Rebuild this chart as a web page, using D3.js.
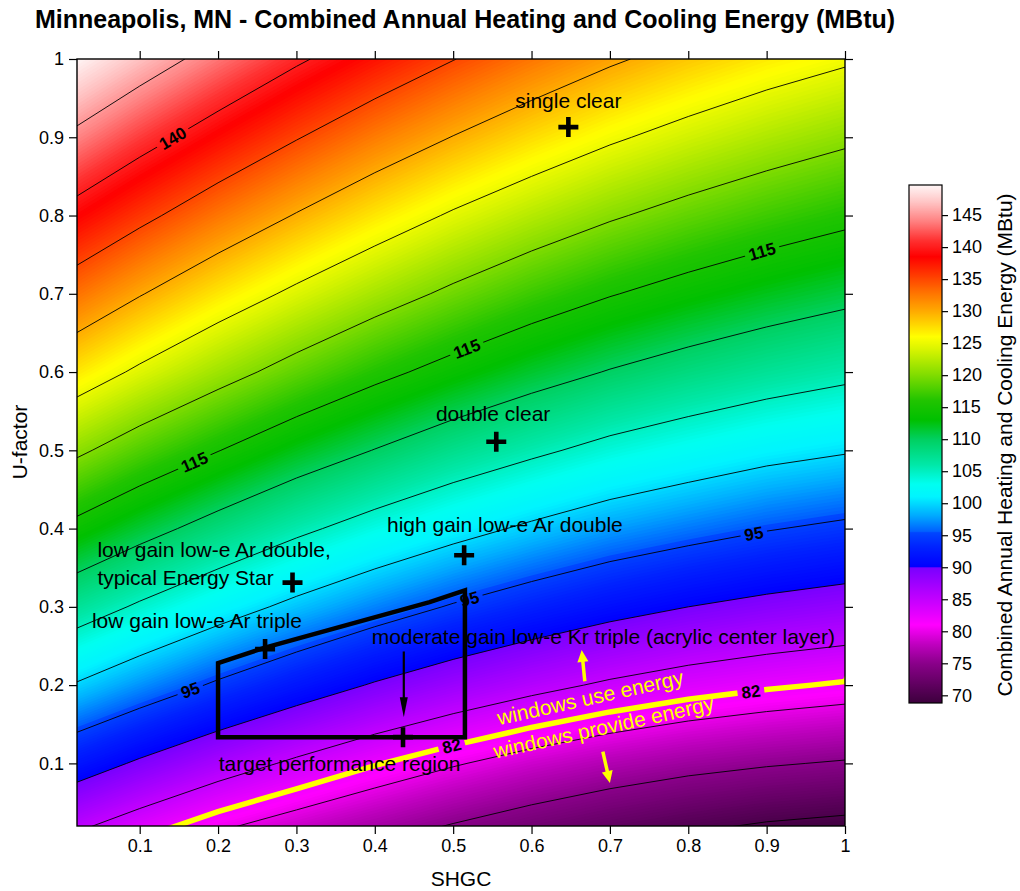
<!DOCTYPE html>
<html><head><meta charset="utf-8">
<script src="https://cdn.jsdelivr.net/npm/d3@7"></script>
<style>
body{margin:0;background:#fff;}
svg{display:block;font-family:"Liberation Sans",Arial,Helvetica,sans-serif;}
</style></head><body>
<svg id="chart" width="1020" height="891"></svg>
<script>
// ================= DATA =================
const shgcGrid = [0, 0.1, 0.2, 0.3, 0.4, 0.5, 0.6, 0.7, 0.8, 0.9, 1.0];
const uGrid    = [0, 0.1, 0.2, 0.3, 0.4, 0.5, 0.6, 0.7, 0.8, 0.9, 1.0];
// combined annual energy (MBtu), one row per U-factor, one column per SHGC
const energyU00 = [84.6, 81.7, 79.0, 77.0, 75.2, 73.4, 71.8, 70.4, 69.2, 68.2, 67.6];
const energyU01 = [92.5, 89.5, 86.8, 84.4, 82.2, 80.3, 78.6, 77.2, 76.1, 75.3, 74.7];
const energyU02 = [100.3, 97.3, 94.5, 92.0, 89.7, 87.7, 86.0, 84.5, 83.3, 82.4, 81.7];
const energyU03 = [107.6, 104.5, 101.7, 99.1, 96.8, 94.7, 92.9, 91.3, 90.0, 89.0, 88.2];
const energyU04 = [114.6, 111.4, 108.5, 105.8, 103.4, 101.3, 99.4, 97.7, 96.4, 95.2, 94.3];
const energyU05 = [121.3, 118.0, 115.1, 112.3, 109.9, 107.6, 105.7, 103.9, 102.5, 101.2, 100.3];
const energyU06 = [127.7, 124.4, 121.4, 118.6, 116.0, 113.7, 111.6, 109.8, 108.3, 107.0, 105.9];
const energyU07 = [133.6, 130.2, 127.1, 124.3, 121.7, 119.3, 117.1, 115.2, 113.6, 112.2, 111.0];
const energyU08 = [139.3, 135.9, 132.7, 129.8, 127.1, 124.6, 122.4, 120.4, 118.7, 117.2, 115.9];
const energyU09 = [144.9, 141.4, 138.2, 135.2, 132.4, 129.9, 127.6, 125.5, 123.7, 122.1, 120.7];
const energyU10 = [150.4, 146.9, 143.6, 140.5, 137.7, 135.1, 132.7, 130.5, 128.6, 126.9, 125.5];

const contourLevels = [70, 75, 80, 85, 90, 95, 100, 105, 110, 115, 120, 125, 130, 135, 140, 145];
const neutralLevel = 82;
const labelLevels = [140, 115, 115, 115, 95, 95, 95, 82, 82];
const labelShgc   = [0.141, 0.168, 0.515, 0.894, 0.164, 0.521, 0.883, 0.50, 0.88];
const labelU      = [0.901, 0.489, 0.636, 0.755, 0.195, 0.310, 0.397, 0.115, 0.191];

const markerNames = ["single clear", "double clear", "high gain low-e Ar double",
  "low gain low-e Ar double", "low gain low-e Ar triple", "moderate gain low-e Kr triple"];
const markerShgc = [0.647, 0.555, 0.514, 0.295, 0.260, 0.436];
const markerU    = [0.913, 0.511, 0.366, 0.331, 0.246, 0.1335];

const targetShgc = [0.20, 0.26, 0.47, 0.515, 0.515, 0.20];
const targetU    = [0.228, 0.248, 0.306, 0.321, 0.1335, 0.1335];

const xTicks = [0.1, 0.2, 0.3, 0.4, 0.5, 0.6, 0.7, 0.8, 0.9, 1];
const yTicks = [0.1, 0.2, 0.3, 0.4, 0.5, 0.6, 0.7, 0.8, 0.9, 1];
const colorbarTicks = [70, 75, 80, 85, 90, 95, 100, 105, 110, 115, 120, 125, 130, 135, 140, 145];
const colorbarRange = [68.8, 149.7];

// ================= STYLE =================
const colorStopValues = [68.8, 70, 75, 78, 81, 83, 86, 89.9, 90.1, 93, 95.4, 95.6, 98, 101, 103, 106, 110, 113, 116, 120, 124, 126, 128, 130, 133, 136, 138.5, 141, 144, 147, 149.7];
const colorStopColors = ["#3d003d", "#4b004b", "#8a008a", "#c000c0", "#ff00ff", "#e000ff", "#b400ff", "#7a00ff", "#0000ff", "#0020ff", "#0046ff", "#0060ff", "#00a8ff", "#00f4ff", "#00fff0", "#00e8a8", "#00d060", "#00c000", "#20c400", "#80dc00", "#d8f400", "#ffff00", "#ffd400", "#ffaa00", "#ff7000", "#ff3200", "#ff0000", "#ff3030", "#ff8080", "#ffc4c4", "#fff6f6"];
const color = d3.scaleLinear().domain(colorStopValues).range(colorStopColors).clamp(true);

const svg = d3.select("#chart");
const plot = {left: 77, right: 845, top: 59, bottom: 826};
const x = d3.scaleLinear([0.02, 1], [plot.left, plot.right]);
const y = d3.scaleLinear([0.02, 1], [plot.bottom, plot.top]);

const energyRows = [energyU00, energyU01, energyU02, energyU03, energyU04, energyU05,
                    energyU06, energyU07, energyU08, energyU09, energyU10];
const nx = shgcGrid.length, ny = uGrid.length;
const values = energyRows.flat();
const gx = d3.scaleLinear([0.5, nx - 0.5], [shgcGrid[0], shgcGrid[nx - 1]]);
const gy = d3.scaleLinear([0.5, ny - 0.5], [uGrid[0], uGrid[ny - 1]]);
const proj = d3.geoTransform({point(px, py) { this.stream.point(x(gx(px)), y(gy(py))); }});
const path = d3.geoPath(proj);
const contours = d3.contours().size([nx, ny]);

const defs = svg.append("defs");
defs.append("clipPath").attr("id", "plotclip").append("rect")
  .attr("x", plot.left).attr("y", plot.top)
  .attr("width", plot.right - plot.left).attr("height", plot.bottom - plot.top);

// ---------- filled field ----------
const gFill = svg.append("g").attr("clip-path", "url(#plotclip)");
const fillThresholds = d3.range(66, 152, 0.25);
gFill.selectAll("path").data(contours.thresholds(fillThresholds)(values)).join("path")
  .attr("d", path).attr("fill", d => color(d.value + 0.125));

// ---------- label placement (snap to contour) ----------
function pixelRings(level) {
  const mp = contours.contour(values, level);
  return mp.coordinates.flatMap(poly => poly.map(ring => ring.map(([a, b]) => [x(gx(a)), y(gy(b))])));
}
function inside(p) {
  return p[0] > plot.left - 20 && p[0] < plot.right + 20 && p[1] > plot.top - 20 && p[1] < plot.bottom + 20;
}
function placeLabel(level, s, u) {
  const P = [x(s), y(u)];
  let best = null;
  for (const ring of pixelRings(level)) {
    for (let i = 0; i < ring.length - 1; i++) {
      const A = ring[i], B = ring[i + 1];
      if (!inside(A) || !inside(B)) continue;
      const dx = B[0] - A[0], dy = B[1] - A[1];
      const L2 = dx * dx + dy * dy;
      if (L2 === 0) continue;
      let t = ((P[0] - A[0]) * dx + (P[1] - A[1]) * dy) / L2;
      t = Math.max(0, Math.min(1, t));
      const Q = [A[0] + t * dx, A[1] + t * dy];
      const d = Math.hypot(P[0] - Q[0], P[1] - Q[1]);
      if (!best || d < best.d) {
        let ang = Math.atan2(dy, dx) * 180 / Math.PI;
        if (ang > 90) ang -= 180;
        if (ang < -90) ang += 180;
        best = {d, Q, ang};
      }
    }
  }
  return best;
}
const labels = labelLevels.map((lv, i) => ({level: lv, ...placeLabel(lv, labelShgc[i], labelU[i])}));

// mask to cut gaps in contour lines under labels
const mask = defs.append("mask").attr("id", "lblmask").attr("maskUnits", "userSpaceOnUse")
  .attr("x", 0).attr("y", 0).attr("width", 1020).attr("height", 891);
mask.append("rect").attr("width", 1020).attr("height", 891).attr("fill", "#fff");

// ---------- contour lines ----------
const gLines = svg.append("g").attr("clip-path", "url(#plotclip)");
const gLinesInner = gLines.append("g").attr("mask", "url(#lblmask)");
gLinesInner.selectAll("path.c").data(contours.thresholds(contourLevels)(values)).join("path")
  .attr("class", "c").attr("d", path).attr("fill", "none").attr("stroke", "#000").attr("stroke-width", 0.9);
gLinesInner.append("path").datum(contours.contour(values, neutralLevel))
  .attr("d", path).attr("fill", "none").attr("stroke", "#ffff00").attr("stroke-width", 5.5)
  .attr("stroke-linecap", "round");

// ---------- contour labels ----------
const gLabels = svg.append("g");
labels.forEach(l => {
  const t = gLabels.append("text")
    .attr("transform", `translate(${l.Q[0]},${l.Q[1]}) rotate(${l.ang})`)
    .attr("text-anchor", "middle").attr("dy", "0.36em")
    .attr("font-size", 17).attr("font-weight", "bold").attr("fill", "#000")
    .text(l.level);
  const w = t.node().getComputedTextLength();
  mask.append("rect")
    .attr("transform", `translate(${l.Q[0]},${l.Q[1]}) rotate(${l.ang})`)
    .attr("x", -w / 2 - 4).attr("y", -9).attr("width", w + 8).attr("height", 18).attr("fill", "#000");
});

// ---------- target performance region ----------
const targetPts = targetShgc.map((s, i) => [s, targetU[i]]);
svg.append("path").datum(targetPts)
  .attr("d", d3.line().x(d => x(d[0])).y(d => y(d[1])).curve(d3.curveLinearClosed))
  .attr("fill", "none").attr("stroke", "#000").attr("stroke-width", 4.5).attr("stroke-linejoin", "miter");

// ---------- markers ----------
svg.append("g").selectAll("path").data(markerNames).join("path")
  .attr("transform", (d, i) => `translate(${x(markerShgc[i])},${y(markerU[i])})`)
  .attr("d", "M-10,0H10M0,-10V10").attr("stroke", "#000").attr("stroke-width", 4.6).attr("fill", "none");

// ---------- annotations ----------
const annFont = 21;
const annotations = [
  {t: "single clear", s: 0.647, u: 0.937, anchor: "middle"},
  {t: "double clear", s: 0.551, u: 0.537, anchor: "middle"},
  {t: "high gain low-e Ar double", s: 0.566, u: 0.396, anchor: "middle"},
  {t: "low gain low-e Ar double,", s: 0.046, u: 0.3633, anchor: "start"},
  {t: "typical Energy Star", s: 0.046, u: 0.3276, anchor: "start"},
  {t: "low gain low-e Ar triple", s: 0.039, u: 0.2726, anchor: "start"},
  {t: "moderate gain low-e Kr triple (acrylic center layer)", s: 0.396, u: 0.2522, anchor: "start"},
  {t: "target performance region", s: 0.355, u: 0.0909, anchor: "middle"}
];
svg.append("g").selectAll("text").data(annotations).join("text")
  .attr("x", d => x(d.s)).attr("y", d => y(d.u)).attr("text-anchor", d => d.anchor)
  .attr("font-size", annFont).attr("fill", "#000").text(d => d.t);

const yellowTexts = [
  {t: "windows use energy", s: 0.677, u: 0.175},
  {t: "windows provide energy", s: 0.694, u: 0.137}
];
svg.append("g").selectAll("text").data(yellowTexts).join("text")
  .attr("transform", d => `translate(${x(d.s)},${y(d.u)}) rotate(-12.5)`)
  .attr("text-anchor", "middle").attr("font-size", annFont).attr("fill", "#ffff00").text(d => d.t);

// arrows
function arrow(g, s0, u0, s1, u1, col, w, headL, headW) {
  const p0 = [x(s0), y(u0)], p1 = [x(s1), y(u1)];
  const ang = Math.atan2(p1[1] - p0[1], p1[0] - p0[0]);
  const ux = Math.cos(ang), uy = Math.sin(ang);
  const base = [p1[0] - ux * headL, p1[1] - uy * headL];
  g.append("line").attr("x1", p0[0]).attr("y1", p0[1]).attr("x2", base[0] + ux * 2).attr("y2", base[1] + uy * 2)
    .attr("stroke", col).attr("stroke-width", w);
  g.append("path").attr("d", `M${p1[0]},${p1[1]}L${base[0] - uy * headW / 2},${base[1] + ux * headW / 2}L${base[0] + uy * headW / 2},${base[1] - ux * headW / 2}Z`)
    .attr("fill", col);
}
const gArr = svg.append("g");
arrow(gArr, 0.437, 0.243, 0.437, 0.159, "#000", 2.2, 20, 8);
arrow(gArr, 0.668, 0.205, 0.664, 0.245, "#ffff00", 3.5, 12, 11);
arrow(gArr, 0.691, 0.115, 0.700, 0.075, "#ffff00", 3.5, 12, 11);

// ---------- axes ----------
const tickFont = 18;
const fmt = d3.format("");
const axB = svg.append("g").attr("transform", `translate(0,${plot.bottom})`)
  .call(d3.axisBottom(x).tickValues(xTicks).tickFormat(fmt).tickSize(8).tickSizeOuter(0).tickPadding(5));
const axL = svg.append("g").attr("transform", `translate(${plot.left},0)`)
  .call(d3.axisLeft(y).tickValues(yTicks).tickFormat(fmt).tickSize(8).tickSizeOuter(0).tickPadding(5));
const axT = svg.append("g").attr("transform", `translate(0,${plot.top})`)
  .call(d3.axisTop(x).tickValues(xTicks).tickFormat("").tickSize(8).tickSizeOuter(0));
const axR = svg.append("g").attr("transform", `translate(${plot.right},0)`)
  .call(d3.axisRight(y).tickValues(yTicks).tickFormat("").tickSize(8).tickSizeOuter(0));
[axB, axL, axT, axR].forEach(a => {
  a.select(".domain").remove();
  a.selectAll("line").attr("stroke", "#000").attr("stroke-width", 1.2);
  a.selectAll("text").attr("font-size", tickFont).attr("fill", "#000")
    .attr("font-family", '"Liberation Sans",Arial,sans-serif');
});
svg.append("rect").attr("x", plot.left).attr("y", plot.top)
  .attr("width", plot.right - plot.left).attr("height", plot.bottom - plot.top)
  .attr("fill", "none").attr("stroke", "#000").attr("stroke-width", 1.4);

// ---------- colorbar ----------
const cb = {left: 909, width: 33};
const cbY = d3.scaleLinear(colorbarRange, [703, 185]);
const grad = defs.append("linearGradient").attr("id", "cbgrad")
  .attr("x1", 0).attr("y1", 1).attr("x2", 0).attr("y2", 0);
const cbSteps = d3.range(colorbarRange[0], colorbarRange[1] + 0.001, 0.1);
grad.selectAll("stop").data(cbSteps).join("stop")
  .attr("offset", v => (v - colorbarRange[0]) / (colorbarRange[1] - colorbarRange[0]))
  .attr("stop-color", v => color(v));
svg.append("rect").attr("x", cb.left).attr("y", cbY(colorbarRange[1]))
  .attr("width", cb.width).attr("height", cbY(colorbarRange[0]) - cbY(colorbarRange[1]))
  .attr("fill", "url(#cbgrad)").attr("stroke", "#000").attr("stroke-width", 1.2);
const axC = svg.append("g").attr("transform", `translate(${cb.left + cb.width},0)`)
  .call(d3.axisRight(cbY).tickValues(colorbarTicks).tickFormat(fmt).tickSize(6).tickSizeOuter(0).tickPadding(4));
axC.select(".domain").remove();
axC.selectAll("line").attr("stroke", "#000").attr("stroke-width", 1.2);
axC.selectAll("text").attr("font-size", tickFont).attr("fill", "#000")
  .attr("font-family", '"Liberation Sans",Arial,sans-serif');

// ---------- titles ----------
svg.append("text").attr("x", 465).attr("y", 28).attr("text-anchor", "middle")
  .attr("font-size", 25).attr("font-weight", "bold").attr("fill", "#000")
  .text("Minneapolis, MN - Combined Annual Heating and Cooling Energy (MBtu)");
svg.append("text").attr("x", 461).attr("y", 886).attr("text-anchor", "middle")
  .attr("font-size", annFont).attr("fill", "#000").text("SHGC");
svg.append("text").attr("transform", "translate(27,442) rotate(-90)").attr("text-anchor", "middle")
  .attr("font-size", annFont).attr("fill", "#000").text("U-factor");
svg.append("text").attr("transform", "translate(1012,445) rotate(-90)").attr("text-anchor", "middle")
  .attr("font-size", annFont).attr("fill", "#000").text("Combined Annual Heating and Cooling Energy (MBtu)");
</script>
</body></html>
